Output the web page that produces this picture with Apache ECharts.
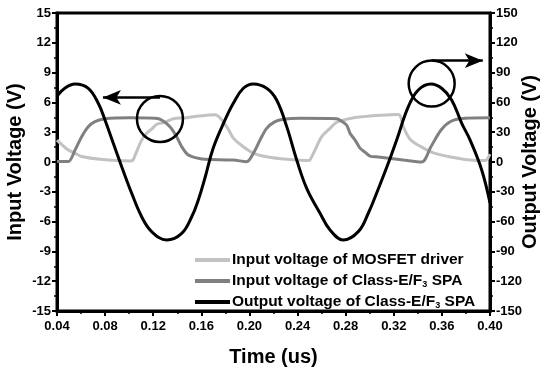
<!DOCTYPE html>
<html>
<head>
<meta charset="utf-8">
<script src="https://cdn.jsdelivr.net/npm/echarts@6/dist/echarts.min.js"></script>
<style>
  html, body { margin: 0; padding: 0; background: #fff; }
  #chart { width: 545px; height: 375px; }
</style>
</head>
<body>
<div id="chart"></div>
<script>
// time axis ticks
const timeTicks = [0.04, 0.08, 0.12, 0.16, 0.20, 0.24, 0.28, 0.32, 0.36, 0.40];

// Input voltage of MOSFET driver (left axis, V)
const mosfetTime = [0.040, 0.0494, 0.0564, 0.0605, 0.0758, 0.1007, 0.1032, 0.1057, 0.1104, 0.1146, 0.1187, 0.1229, 0.1298, 0.1367, 0.1464, 0.1548, 0.1714,
  0.1811, 0.1866, 0.1949, 0.2032, 0.2143, 0.2310, 0.2489, 0.2503, 0.2545, 0.2601, 0.2670, 0.2725, 0.2794, 0.2892, 0.3238,
  0.3279, 0.3335, 0.3432, 0.3543, 0.3709, 0.3834, 0.3959, 0.4000];
const mosfetVolt = [2.2, 1.2, 0.8, 0.55, 0.27, 0.1, 0.2, 0.9, 2.2, 2.9, 3.3, 3.8, 4.0, 4.35, 4.45, 4.58, 4.75,
  3.55, 2.4, 1.54, 0.9, 0.53, 0.27, 0.15, 0.2, 1.2, 2.55, 3.39, 4.0, 4.25, 4.5, 4.78,
  3.55, 2.3, 1.5, 0.87, 0.43, 0.2, 0.15, 0.8];

// Input voltage of Class-E/F3 SPA (left axis, V)
const spaInTime = [0.040, 0.0494, 0.0550, 0.0605, 0.0660, 0.0716, 0.0799, 0.1007, 0.1215, 0.1270, 0.1339, 0.1395, 0.1437, 0.1492, 0.1575, 0.1630, 0.1866,
  0.1977, 0.2032, 0.2088, 0.2143, 0.2213, 0.2281, 0.2420, 0.2725, 0.2767, 0.2809, 0.2836, 0.2878, 0.2919, 0.2960, 0.3002, 0.3071,
  0.3279, 0.3432, 0.3509, 0.3593, 0.3676, 0.3792, 0.4000];
const spaInVolt = [0.05, 0.05, 1.2, 2.55, 3.55, 4.06, 4.35, 4.45, 4.4, 4.23, 3.55, 2.55, 1.54, 0.7, 0.37, 0.27, 0.2,
  0.03, 0.87, 2.21, 3.39, 4.06, 4.3, 4.4, 4.35, 4.1, 3.7, 2.9, 2.21, 1.4, 1.0, 0.6, 0.5,
  0.2, 0.0, 1.54, 3.22, 4.1, 4.4, 4.45];

// Output voltage of Class-E/F3 SPA (right axis, V)
const outTime = [0.040, 0.0467, 0.055, 0.066, 0.0743, 0.0799, 0.0868, 0.0938, 0.1021, 0.1104, 0.1187, 0.1312, 0.1437, 0.1520, 0.1575, 0.1630,
  0.1699, 0.1797, 0.1866, 0.1949, 0.2032, 0.2143, 0.2226, 0.2310, 0.2393, 0.2476, 0.2587, 0.2670, 0.2780, 0.2905, 0.2988,
  0.3071, 0.3154, 0.3224, 0.3321, 0.3404, 0.3509, 0.3598, 0.3681, 0.3765, 0.3834, 0.3931, 0.4000];
const outVolt = [66.4, 74.5, 78.5, 74.2, 59.1, 42.3, 18.8, -4.7, -31.5, -55.1, -70.1, -78.5, -71.8, -55.1, -38.2, -16.1,
  14.1, 42.3, 59.1, 74.2, 78.5, 74.2, 62.4, 35.6, 2.0, -26.5, -51.6, -68.4, -78.5, -70.1, -51.6,
  -27.2, -1.3, 22.2, 55.7, 72.5, 78.5, 74.2, 62.4, 39.0, 22.2, -8.0, -41.3];

// annotation circles and arrows (data coordinates)
const leftCircle = [0.1256, 4.33];
const leftArrow = [[0.1256, 6.5], [0.0782, 6.5]];
const rightCircle = [0.3515, 79];
const rightArrow = [[0.3515, 102], [0.394, 102]];

const legendLabels = {
  mosfet: 'Input voltage of MOSFET driver',
  spaIn: 'Input voltage of Class-E/F{sub|3} SPA',
  out: 'Output voltage of Class-E/F{sub|3} SPA'
};

const font = 'Liberation Sans, Arial, sans-serif';
const pairs = (xs, ys) => xs.map((x, i) => [x, ys[i]]);

const chart = echarts.init(document.getElementById('chart'));

const axisCommon = {
  axisLine: { show: true, onZero: false, lineStyle: { color: '#000', width: 3 } },
  axisTick: { show: true, inside: false, length: 5, lineStyle: { color: '#000', width: 2 } },
  minorTick: { show: true, splitNumber: 2, length: 3, lineStyle: { color: '#000', width: 1.5 } },
  splitLine: { show: false },
  axisLabel: { color: '#000', fontFamily: font, fontWeight: 'bold', fontSize: 13 },
  nameMoveOverlap: false,
  nameTextStyle: { color: '#000', fontFamily: font, fontWeight: 'bold', fontSize: 20 }
};

const option = {
  animation: false,
  backgroundColor: '#fff',
  grid: {
    left: 57, right: 55, top: 13, bottom: 64,
    outerBoundsMode: 'none',
    containLabel: false,
    show: true, borderColor: '#000', borderWidth: 3, backgroundColor: 'transparent'
  },
  legend: {
    orient: 'vertical',
    left: 190,
    top: 247,
    icon: 'rect',
    itemWidth: 35,
    itemHeight: 4,
    itemGap: 4,
    itemStyle: { borderWidth: 0 },
    data: ['mosfet', 'spaIn', 'out'],
    formatter: (name) => legendLabels[name],
    textStyle: {
      color: '#000', fontFamily: font, fontWeight: 'bold', fontSize: 15.5, lineHeight: 16, padding: [0, 0, 0, -3],
      rich: {
        sub: { fontSize: 9, fontWeight: 'bold', fontFamily: font, color: '#000', verticalAlign: 'bottom', lineHeight: 9, padding: [8, 0, 0, 0] }
      }
    }
  },
  xAxis: {
    ...axisCommon,
    type: 'value',
    min: timeTicks[0],
    max: timeTicks[timeTicks.length - 1],
    interval: 0.04,
    name: 'Time (us)',
    nameLocation: 'middle',
    nameGap: 36,
    axisLabel: { ...axisCommon.axisLabel, margin: 9, formatter: (v) => v.toFixed(2) }
  },
  yAxis: [
    {
      ...axisCommon,
      type: 'value',
      position: 'left',
      min: -15, max: 15, interval: 3,
      name: 'Input Voltage (V)',
      nameLocation: 'middle',
      nameGap: 32,
      axisLabel: { ...axisCommon.axisLabel, margin: 6 }
    },
    {
      ...axisCommon,
      type: 'value',
      position: 'right',
      min: -150, max: 150, interval: 30,
      name: 'Output Voltage (V)',
      nameLocation: 'middle',
      nameGap: 30,
      nameRotate: 90,
      axisLabel: { ...axisCommon.axisLabel, margin: 6 }
    }
  ],
  series: [
    {
      name: 'mosfet',
      type: 'line',
      yAxisIndex: 0,
      data: pairs(mosfetTime, mosfetVolt),
      symbol: 'none',
      smooth: 0.3,
      lineStyle: { color: '#c2c2c2', width: 3 },
      itemStyle: { color: '#c2c2c2' }
    },
    {
      name: 'spaIn',
      type: 'line',
      yAxisIndex: 0,
      data: pairs(spaInTime, spaInVolt),
      symbol: 'none',
      smooth: 0.3,
      lineStyle: { color: '#808080', width: 3 },
      itemStyle: { color: '#808080' },
      markPoint: {
        silent: true,
        symbol: 'circle',
        symbolSize: 46,
        label: { show: false },
        itemStyle: { color: 'rgba(0,0,0,0)', borderColor: '#000', borderWidth: 2.5 },
        data: [{ coord: leftCircle }]
      },
      markLine: {
        silent: true,
        symbol: ['none', 'arrow'],
        symbolSize: [11, 18],
        label: { show: false },
        lineStyle: { color: '#000', width: 2.5, type: 'solid' },
        data: [[{ coord: leftArrow[0] }, { coord: leftArrow[1] }]]
      }
    },
    {
      name: 'out',
      type: 'line',
      yAxisIndex: 1,
      data: pairs(outTime, outVolt),
      symbol: 'none',
      smooth: 0.4,
      lineStyle: { color: '#000', width: 3 },
      itemStyle: { color: '#000' },
      markPoint: {
        silent: true,
        symbol: 'circle',
        symbolSize: 46,
        label: { show: false },
        itemStyle: { color: 'rgba(0,0,0,0)', borderColor: '#000', borderWidth: 2.5 },
        data: [{ coord: rightCircle }]
      },
      markLine: {
        silent: true,
        symbol: ['none', 'arrow'],
        symbolSize: [11, 18],
        label: { show: false },
        lineStyle: { color: '#000', width: 2.5, type: 'solid' },
        data: [[{ coord: rightArrow[0] }, { coord: rightArrow[1] }]]
      }
    }
  ]
};

chart.setOption(option);
</script>
</body>
</html>
